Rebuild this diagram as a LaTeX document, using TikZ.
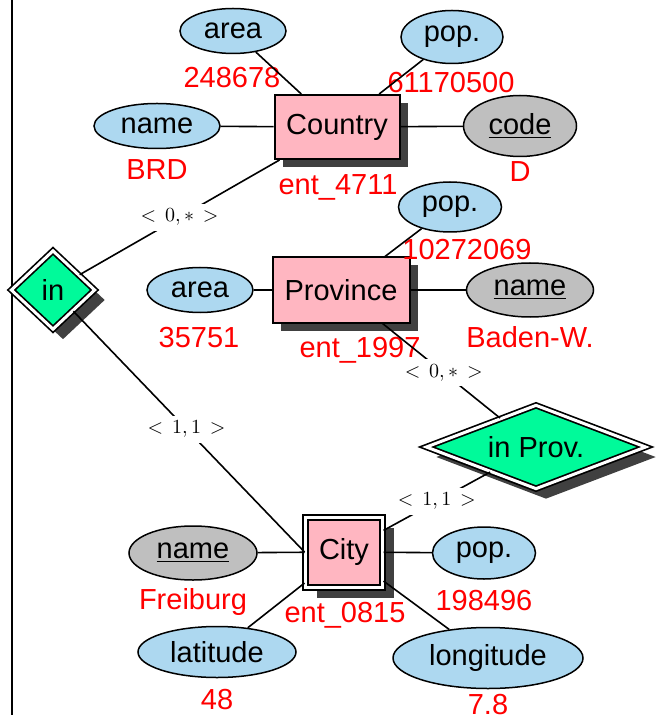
\documentclass[tikz,border=0pt]{standalone}
\usepackage{fontspec}
\setsansfont{Liberation Sans}
\usetikzlibrary{shapes.geometric,shadows}
\definecolor{attrblau}{RGB}{173,216,240}
\definecolor{schluesselgrau}{RGB}{191,191,191}
\definecolor{entrosa}{RGB}{255,182,193}
\definecolor{relgruen}{RGB}{0,250,154}
\definecolor{schattengrau}{RGB}{64,64,64}
\newcommand{\erschrift}{\sffamily\fontsize{14.5}{17}\selectfont}
\tikzset{
	attr/.style={ellipse,draw=black,fill=attrblau,line width=0.75pt,inner sep=0pt,font=\erschrift},
	schluessel/.style={attr,fill=schluesselgrau},
	ent/.style={rectangle,draw=black,fill=entrosa,line width=1pt,inner sep=0pt,font=\erschrift},
	doppelt/.style={double=white,double distance=1.5pt},
	rel/.style={diamond,draw=black,fill=relgruen,line width=0.85pt,doppelt,inner sep=0pt,font=\erschrift},
	schattenwurf/.style={drop shadow={shadow xshift=#1,shadow yshift=-#1,fill=schattengrau,opacity=1}},
	wert/.style={text=red,font=\erschrift,inner sep=0pt,anchor=base},
	kard/.style={fill=white,inner xsep=3pt,inner ysep=2.5pt,font=\fontsize{10}{12}\selectfont},
	verb/.style={line width=0.8pt}
}
\begin{document}
\begin{tikzpicture}[x=0.5pt,y=-0.5pt]
	\useasboundingbox (0,0) rectangle (660,715);
%Rahmen
	\draw[line width=0.9pt] (12,0) -- (12,715);
%Entitäten
	\node[ent,schattenwurf=4pt,minimum width=62.5pt,minimum height=32pt] (country)
		at (337,127) {Country};
	\node[ent,schattenwurf=4pt,minimum width=68.5pt,minimum height=32.5pt] (province)
		at (341,290) {Province};
	\node[ent,doppelt,schattenwurf=5.5pt,minimum width=38.5pt,minimum height=35pt] (city)
		at (344,552) {City};
%Beziehungen
	\node[rel,schattenwurf=5pt,minimum width=42pt,minimum height=39.5pt] (in)
		at (53,290) {in};
	\node[rel,schattenwurf=5pt,shape aspect=2.6,minimum width=110pt,minimum height=42pt] (inprov)
		at (536,447) {in Prov.};
%Attribute Country
	\node[attr,minimum width=53pt,minimum height=22.5pt] (carea) at (233,31) {area};
	\node[attr,minimum width=51pt,minimum height=26.5pt] (cpop) at (452,37) {pop.};
	\node[attr,minimum width=63pt,minimum height=22.5pt] (cname) at (157,126) {name};
	\node[schluessel,minimum width=56.5pt,minimum height=30.5pt] (ccode) at (520,126) {\underline{code}};
%Attribute Province
	\node[attr,minimum width=53pt,minimum height=22.5pt] (parea) at (200,290) {area};
	\node[attr,minimum width=51.5pt,minimum height=25pt] (ppop) at (450,207) {pop.};
	\node[schluessel,minimum width=63.5pt,minimum height=27pt] (pname) at (530,290) {\underline{name}};
%Attribute City
	\node[schluessel,minimum width=64pt,minimum height=27pt] (sname) at (193,553) {\underline{name}};
	\node[attr,minimum width=51.5pt,minimum height=26pt] (spop) at (484,553) {pop.};
	\node[attr,minimum width=79pt,minimum height=25.5pt] (slat) at (217,652) {latitude};
	\node[attr,minimum width=95pt,minimum height=30.5pt] (slon) at (488,658) {longitude};
%Werte
	\node[wert] (wcarea) at (232,88) {248678};
	\node[wert] (wcpop) at (451,93) {61170500};
	\node[wert] (wcname) at (157,180) {BRD};
	\node[wert] (wccode) at (520,182) {D};
	\node[wert] (wcountry) at (338,195) {ent\_4711};
	\node[wert] (wppop) at (467,260) {10272069};
	\node[wert] (wparea) at (199,347) {35751};
	\node[wert] (wpname) at (530,347) {Baden-W.};
	\node[wert] (wprovince) at (360,357) {ent\_1997};
	\node[wert] (wsname) at (193,609) {Freiburg};
	\node[wert] (wspop) at (484,610) {198496};
	\node[wert] (wcity) at (345,622) {ent\_0815};
	\node[wert] (wslat) at (217,709) {48};
	\node[wert] (wslon) at (488,714) {7.8};
%Verbindungen Attribute
	\draw[verb] (country) -- (carea);
	\draw[verb] (country) -- (cpop);
	\draw[verb] (country) -- (cname);
	\draw[verb] (country) -- (ccode);
	\draw[verb] (province) -- (parea);
	\draw[verb] (province) -- (ppop);
	\draw[verb] (province) -- (pname);
	\draw[verb] (city) -- (sname);
	\draw[verb] (city) -- (spop);
	\draw[verb] (city) -- (slat);
	\draw[verb] (city) -- (slon);
%Verbindungen Beziehungen
	\draw[verb] (in) -- node[kard] (kin1) {$<\,0,*\,>$} (country);
	\draw[verb] (in) -- node[kard,pos=0.49] (kin2) {$<\,1,1\,>$} (city.west);
	\draw[verb] (province) -- node[kard,pos=0.52] (kprov1) {$<\,0,*\,>$} (inprov);
	\draw[verb] (inprov) -- node[kard] (kprov2) {$<\,1,1\,>$} (city);
\end{tikzpicture}
\end{document}
